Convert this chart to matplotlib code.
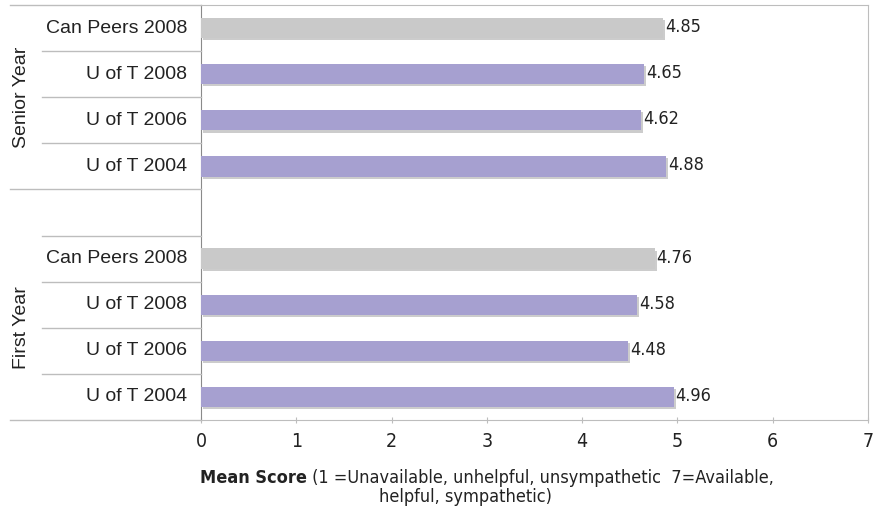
import matplotlib.pyplot as plt
import matplotlib.patheffects as pe
from matplotlib.lines import Line2D

# Mean scores, top to bottom in each group
groups = ["Senior Year", "First Year"]
categories = ["Can Peers 2008", "U of T 2008", "U of T 2006", "U of T 2004"]
senior_scores = [4.85, 4.65, 4.62, 4.88]
first_scores = [4.76, 4.58, 4.48, 4.96]
xticks = [0, 1, 2, 3, 4, 5, 6, 7]

PURPLE = "#a6a0d0"
GREY = "#c9c9c9"
LINE = "#bdbdbd"
INK = "#222222"
SANS = ["Liberation Sans", "DejaVu Sans"]
NARROW = dict(family="DejaVu Sans", fontstretch="condensed")

fig = plt.figure(figsize=(8.73, 5.15), dpi=100)
ax = fig.add_axes([201 / 873, 1 - 420 / 515, 667 / 873, 415 / 515])

# 9 slots: 4 senior rows, one blank, 4 first-year rows
rows = []
for g, scores in enumerate([senior_scores, first_scores]):
    for i, (cat, val) in enumerate(zip(categories, scores)):
        rows.append((g * 5 + i, cat, val))

shadow = [pe.SimplePatchShadow(offset=(1.5, -1.5), shadow_rgbFace="#9a9a9a", alpha=0.5), pe.Normal()]
for y, cat, val in rows:
    color = GREY if cat.startswith("Can") else PURPLE
    ax.barh(y, val, height=0.44, color=color, path_effects=shadow, zorder=3)
    ax.text(val + 0.02, y - 0.02, f"{val:.2f}", va="center", ha="left", fontsize=13,
            color=INK, **NARROW)

ax.set_xlim(0, 7)
ax.set_ylim(8.5, -0.5)
ax.set_yticks([])
ax.set_xticks(xticks)
ax.set_xticklabels([str(t) for t in xticks], fontsize=14, color=INK, **NARROW)
ax.tick_params(axis="x", direction="inout", length=5, color=LINE, pad=6)
for side in ["top", "right", "bottom"]:
    ax.spines[side].set_color(LINE)
ax.spines["left"].set_color("#8a8a8a")

x_axes = 201 / 873


def fy(slot):
    # figure y of a slot boundary
    return 1 - (5 + slot * 415 / 9) / 515


# row labels and separators in the label column
for y, cat, val in rows:
    yc = (fy(y) + fy(y + 1)) / 2
    fig.text(187 / 873, yc, cat, ha="right", va="center", fontsize=14,
             family=SANS, color=INK)

for b in [0, 4, 9]:
    fig.add_artist(Line2D([10 / 873, x_axes], [fy(b), fy(b)], color=LINE, lw=1))
for b in [1, 2, 3, 5, 6, 7, 8]:
    fig.add_artist(Line2D([42 / 873, x_axes], [fy(b), fy(b)], color=LINE, lw=1))

fig.text(22 / 873, (fy(0) + fy(4)) / 2, groups[0], rotation=90, ha="center",
         va="center", fontsize=14, family=SANS, color=INK)
fig.text(22 / 873, (fy(5) + fy(9)) / 2, groups[1], rotation=90, ha="center",
         va="center", fontsize=14, family=SANS, color=INK)

# axis title with a bold lead-in
t1 = fig.text(200 / 873, 1 - 478 / 515, "Mean Score", ha="left", va="center",
              fontsize=13, fontweight="bold", color=INK, **NARROW)
ax.annotate(" (1 =Unavailable, unhelpful, unsympathetic  7=Available,",
            xy=(1, 0), xycoords=t1, ha="left", va="bottom", fontsize=13,
            color=INK, annotation_clip=False, **NARROW)
fig.text(465 / 873, 1 - 497 / 515, "helpful, sympathetic)", ha="center",
         va="center", fontsize=13, color=INK, **NARROW)

fig.savefig("out.png", dpi=100)
